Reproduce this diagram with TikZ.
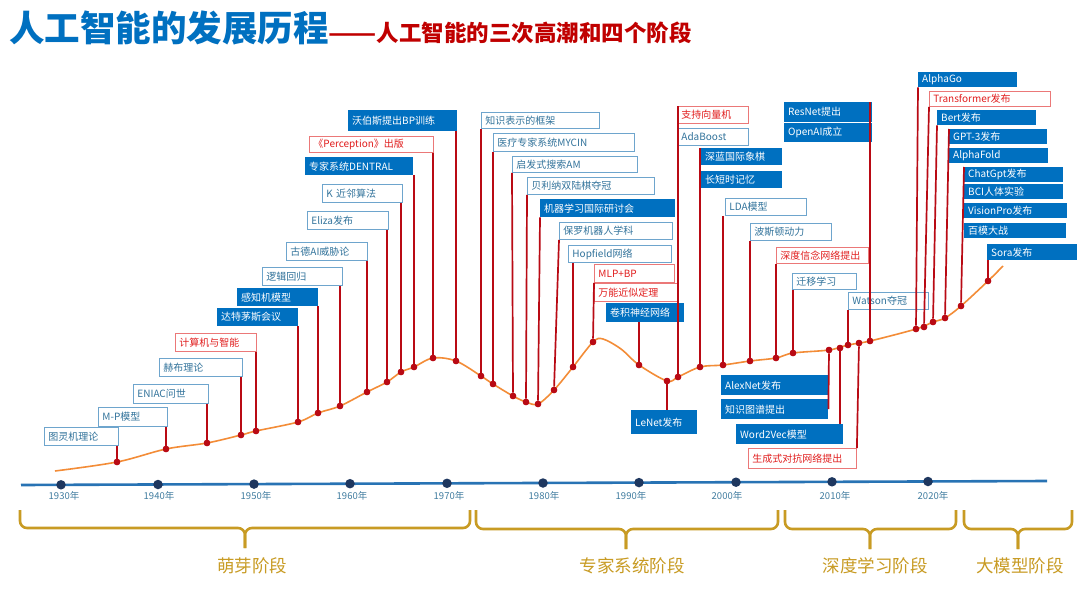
\documentclass[tikz,border=0pt]{standalone}
\usepackage{graphicx}
\usepackage{fontspec}
\setmainfont{Noto Sans CJK SC}
\usetikzlibrary{calc}
\definecolor{tblue}{RGB}{0,112,192}
\definecolor{tred}{RGB}{192,0,0}
\definecolor{oborder}{RGB}{110,165,205}
\definecolor{otext}{RGB}{50,115,155}
\definecolor{fblue}{RGB}{0,112,192}
\definecolor{rborder}{RGB}{235,120,120}
\definecolor{rtext}{RGB}{225,30,30}
\definecolor{connc}{RGB}{185,10,20}
\definecolor{curvec}{RGB}{243,140,55}
\definecolor{axisc}{RGB}{40,115,180}
\definecolor{tickc}{RGB}{30,55,95}
\definecolor{yearc}{RGB}{65,125,160}
\definecolor{goldc}{RGB}{200,155,35}
\newcommand\lblfont{\fontsize{10}{12}\selectfont}
\newcommand\lb[7]{%
  \pgfmathsetmacro\lbw{#5-#3-8}\pgfmathsetmacro\lbh{#6-#4}%
  \node[#1, anchor=north west, text width=\lbw pt, minimum height=\lbh pt] (#2) at (#3,#4) {\mbox{#7}};}
\begin{document}
\begin{tikzpicture}[x=1pt,y=-1pt,
  boxbase/.style={rectangle, font=\lblfont, inner xsep=4pt, inner ysep=0.5pt, align=left},
  boxo/.style={boxbase, draw=oborder, line width=0.9pt, fill=white, text=otext},
  boxf/.style={boxbase, fill=fblue, text=white},
  boxr/.style={boxbase, draw=rborder, line width=0.9pt, fill=white, text=rtext},
  connline/.style={draw=connc, line width=1.7pt},
  evdot/.style={circle, fill=connc, inner sep=0pt, minimum size=6.5pt},
  tickdot/.style={circle, fill=tickc, inner sep=0pt, minimum size=9.5pt},
  yearlbl/.style={font=\fontsize{9.5}{11}\selectfont, text=yearc, inner sep=0pt},
  bracestyle/.style={draw=goldc, line width=2.6pt, rounded corners=7pt},
  stagelbl/.style={font=\fontsize{17.5}{20}\selectfont, text=goldc, inner sep=0pt},
  curvestyle/.style={draw=curvec, line width=1.6pt},
  axisstyle/.style={draw=axisc, line width=2.6pt}
]
\useasboundingbox[fill=white] (0,0) rectangle (1080,608);

% title
\node[anchor=base west, inner sep=0pt] (title) at (9,41)
  {{\fontsize{35.5}{40}\selectfont\bfseries\color{tblue}人工智能的发展历程}{\fontsize{22.5}{26}\selectfont\bfseries\color{tred}\scalebox{1.25}[1]{——}人工智能的三次高潮和四个阶段}};

% curve
\draw[curvestyle] plot[smooth, tension=0.55] coordinates {
 (55,471) (117,462) (166,449) (207,443) (241,435) (256,431) (298,422) (318,413)
 (340,406) (367,392) (387,382) (401,372) (414,367) (433,358) (456,361)
 (481,376) (493,384) (513,396) (526,402) (538,404) (554,390) (573,367) (593,342)
 (603,339) (621,349) (639,365) (667,381) (678,377) (700,367) (723,365) (750,361)
 (776,358) (793,353) (829,350) (848,345) (870,341) (916,329) (933,322) (945,318)
 (961,306) (988,281) (1003,266)};

% event dots
\node[evdot] (d1) at (117,462) {};
\node[evdot] (d2) at (166,449) {};
\node[evdot] (d3) at (207,443) {};
\node[evdot] (d4) at (241,435) {};
\node[evdot] (d5) at (256,431) {};
\node[evdot] (d6) at (298,422) {};
\node[evdot] (d7) at (318,413) {};
\node[evdot] (d8) at (340,406) {};
\node[evdot] (d9) at (367,392) {};
\node[evdot] (d10) at (387,382) {};
\node[evdot] (d11) at (401,372) {};
\node[evdot] (d12) at (414,367) {};
\node[evdot] (d13) at (433,358) {};
\node[evdot] (d14) at (456,361) {};
\node[evdot] (d15) at (481,376) {};
\node[evdot] (d16) at (493,384) {};
\node[evdot] (d17) at (513,396) {};
\node[evdot] (d18) at (526,402) {};
\node[evdot] (d19) at (538,404) {};
\node[evdot] (d20) at (554,390) {};
\node[evdot] (d21) at (573,367) {};
\node[evdot] (d22) at (593,342) {};
\node[evdot] (d24) at (639,365) {};
\node[evdot] (d25) at (667,381) {};
\node[evdot] (d26) at (678,377) {};
\node[evdot] (d28) at (700,367) {};
\node[evdot] (d30) at (723,365) {};
\node[evdot] (d31) at (750,361) {};
\node[evdot] (d32) at (776,358) {};
\node[evdot] (d33) at (793,353) {};
\node[evdot] (d37) at (829,350) {};
\node[evdot] (d39) at (840,348) {};
\node[evdot] (d34) at (848,345) {};
\node[evdot] (d40) at (859,343) {};
\node[evdot] (d35) at (870,341) {};
\node[evdot] (d41) at (916,329) {};
\node[evdot] (d42) at (924,327) {};
\node[evdot] (d43) at (933,322) {};
\node[evdot] (d44) at (945,318) {};
\node[evdot] (d46) at (961,306) {};
\node[evdot] (d50) at (988,281) {};

% label boxes
\lb{boxo}{b1}{44}{427}{118}{445}{图灵机理论}
\lb{boxo}{b2}{98}{407}{167}{426}{M-P模型}
\lb{boxo}{b3}{133}{384}{208}{403}{ENIAC问世}
\lb{boxo}{b4}{159}{358}{242}{376}{赫布理论}
\lb{boxr}{b5}{175}{333}{256}{351}{计算机与智能}
\lb{boxf}{b6}{217}{308}{298}{326}{达特茅斯会议}
\lb{boxf}{b7}{237}{288}{318}{306}{感知机模型}
\lb{boxo}{b8}{262}{267}{342}{285}{逻辑回归}
\lb{boxo}{b9}{286}{242}{367}{260}{古德AI威胁论}
\lb{boxo}{b10}{307}{211}{388}{229}{Eliza发布}
\lb{boxo}{b11}{322}{184}{402}{202}{K 近邻算法}
\lb{boxf}{b12}{305}{157}{413}{175}{专家系统DENTRAL}
\lb{boxr}{b13}{309}{136}{433}{152}{《Perception》出版}
\lb{boxf}{b14}{348}{110}{457}{131}{沃伯斯提出BP训练}
\lb{boxo}{b15}{481}{112}{599}{128}{知识表示的框架}
\lb{boxo}{b16}{493}{133}{634}{151}{医疗专家系统MYCIN}
\lb{boxo}{b17}{512}{156}{637}{172}{启发式搜索AM}
\lb{boxo}{b18}{527}{177}{654}{194}{贝利纳双陆棋夺冠}
\lb{boxf}{b19}{540}{199}{675}{217}{机器学习国际研讨会}
\lb{boxo}{b20}{559}{222}{672}{239}{保罗机器人学科}
\lb{boxo}{b21}{568}{245}{671}{262}{Hopfield网络}
\lb{boxr}{b22}{594}{264}{674}{282}{MLP+BP}
\lb{boxr}{b23}{594}{283}{678}{301}{万能近似定理}
\lb{boxf}{b24}{606}{303}{684}{322}{卷积神经网络}
\lb{boxf}{b25}{631}{410}{697}{434}{LeNet发布}
\lb{boxr}{b26}{677}{106}{748}{123}{支持向量机}
\lb{boxo}{b27}{677}{128}{748}{145}{AdaBoost}
\lb{boxf}{b28}{701}{148}{782}{165}{深蓝国际象棋}
\lb{boxf}{b29}{701}{171}{782}{188}{长短时记忆}
\lb{boxo}{b30}{725}{198}{806}{215}{LDA模型}
\lb{boxo}{b31}{750}{223}{831}{240}{波斯顿动力}
\lb{boxr}{b32}{776}{247}{868}{263}{深度信念网络提出}
\lb{boxo}{b33}{792}{273}{856}{289}{迁移学习}
\lb{boxo}{b34}{848}{292}{928}{309}{Watson夺冠}
\lb{boxf}{b35}{784}{102}{872}{122}{ResNet提出}
\lb{boxf}{b36}{784}{123}{872}{142}{OpenAI成立}
\lb{boxf}{b37}{721}{375}{828}{395}{AlexNet发布}
\lb{boxf}{b38}{721}{399}{828}{419}{知识图谱提出}
\lb{boxf}{b39}{736}{424}{843}{444}{Word2Vec模型}
\lb{boxr}{b40}{748}{448}{856}{468}{生成式对抗网络提出}
\lb{boxf}{b41}{918}{72}{1017}{87}{AlphaGo}
\lb{boxr}{b42}{929}{91}{1050}{106}{Transformer发布}
\lb{boxf}{b43}{937}{110}{1036}{125}{Bert发布}
\lb{boxf}{b44}{949}{129}{1047}{144}{GPT-3发布}
\lb{boxf}{b45}{949}{148}{1048}{163}{AlphaFold}
\lb{boxf}{b46}{964}{167}{1063}{182}{ChatGpt发布}
\lb{boxf}{b47}{964}{184}{1063}{199}{BCI人体实验}
\lb{boxf}{b48}{964}{203}{1067}{218}{VisionPro发布}
\lb{boxf}{b49}{964}{223}{1066}{238}{百模大战}
\lb{boxf}{b50}{987}{244}{1077}{260}{Sora发布}

% connectors
\foreach \i in {1,...,14} { \draw[connline] (d\i |- b\i.south) -- (d\i); }
\foreach \i in {15,16,17,18,19,20,22} { \draw[connline] (b\i.south west) -- (d\i); }
\draw[connline] (d21 |- b21.south) -- (d21);
\draw[connline] (d24 |- b24.south) -- (d24);
\draw[connline] (d25) -- (d25 |- b25.north);
\draw[connline] (d26 |- b26.north) -- (d26);
\draw[connline] (d28 |- b28.north) -- (d28);
\draw[connline] (d30 |- b30.south) -- (d30);
\draw[connline] (d31 |- b31.south) -- (d31);
\draw[connline] (d32 |- b32.south) -- (d32);
\draw[connline] (d33 |- b33.south) -- (d33);
\draw[connline] (d34 |- b34.south) -- (d34);
\draw[connline] (d35 |- b35.north) -- (d35);
\draw[connline] (d37) -- (b38.east);
\draw[connline] (d39) -- (d39 |- b39.north);
\draw[connline] (d40) -- (b40.north east);
\draw[connline] (b41.south west) -- (d41);
\draw[connline] (b42.south west) -- (d42);
\draw[connline] (b43.south west) -- (d43);
\draw[connline] (b44.north west) -- (d44);
\draw[connline] (b46.north west) -- (d46);
\draw[connline] (d50 |- b50.south) -- (d50);

% redraw dots on top
\foreach \n in {d1,d2,d3,d4,d5,d6,d7,d8,d9,d10,d11,d12,d13,d14,d15,d16,d17,d18,d19,d20,d21,d22,d24,d25,d26,d28,d30,d31,d32,d33,d34,d35,d37,d39,d40,d41,d42,d43,d44,d46,d50}
  { \fill[connc] (\n) circle (3.2pt); }

% timeline axis
\coordinate (axL) at (21,485);
\coordinate (axR) at (1047,481);
\draw[axisstyle] (axL) -- (axR);
\node[tickdot] (t1) at (61,484.8) {};
\node[tickdot] (t2) at (158,484.5) {};
\node[tickdot] (t3) at (254,484.1) {};
\node[tickdot] (t4) at (350,483.7) {};
\node[tickdot] (t5) at (447,483.3) {};
\node[tickdot] (t6) at (543,483) {};
\node[tickdot] (t7) at (639,482.6) {};
\node[tickdot] (t8) at (736,482.2) {};
\node[tickdot] (t9) at (832,481.8) {};
\node[tickdot] (t10) at (928,481.5) {};
\node[yearlbl] (y1) at (64,496) {1930年};
\node[yearlbl] (y2) at (159,496) {1940年};
\node[yearlbl] (y3) at (256,496) {1950年};
\node[yearlbl] (y4) at (352,496) {1960年};
\node[yearlbl] (y5) at (449,496) {1970年};
\node[yearlbl] (y6) at (544,496) {1980年};
\node[yearlbl] (y7) at (631,496) {1990年};
\node[yearlbl] (y8) at (727,496) {2000年};
\node[yearlbl] (y9) at (835,496) {2010年};
\node[yearlbl] (y10) at (933,496) {2020年};

% braces
\draw[bracestyle] (20,510) -- (20,528) -- (245,528) -- (245,548);
\draw[bracestyle] (245,548) -- (245,528) -- (470,528) -- (470,510);
\draw[bracestyle] (476,510) -- (476,529) -- (626,529) -- (626,549);
\draw[bracestyle] (626,549) -- (626,529) -- (778,529) -- (778,510);
\draw[bracestyle] (785,510) -- (785,529) -- (870,529) -- (870,549);
\draw[bracestyle] (870,549) -- (870,529) -- (956,529) -- (956,510);
\draw[bracestyle] (964,510) -- (964,529) -- (1018,529) -- (1018,549);
\draw[bracestyle] (1018,549) -- (1018,529) -- (1072,529) -- (1072,510);
\node[stagelbl] (s1) at (252,566) {萌芽阶段};
\node[stagelbl] (s2) at (632,566) {专家系统阶段};
\node[stagelbl] (s3) at (875,566) {深度学习阶段};
\node[stagelbl] (s4) at (1020,566) {大模型阶段};
\end{tikzpicture}
\end{document}
